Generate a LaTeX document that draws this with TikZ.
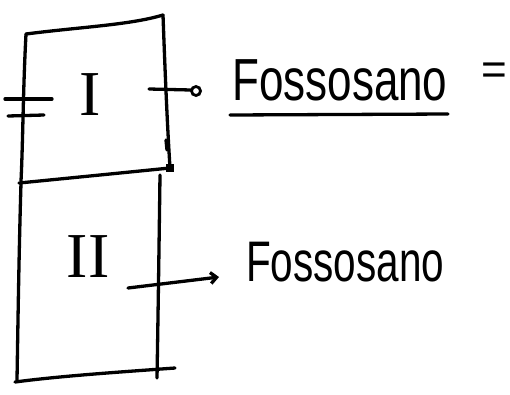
\documentclass[tikz,border=0pt]{standalone}
\usepackage{fontspec}
\setmainfont{Liberation Sans}
\newfontfamily\romanfont{Liberation Serif}
\usetikzlibrary{arrows.meta}
\begin{document}
\begin{tikzpicture}[x=1pt,y=-1pt,
  pen/.style={line width=3.3pt, line cap=round, line join=round, black},
  word/.style={font=\fontsize{44}{44}\selectfont, inner sep=0pt, anchor=base west},
  numeral/.style={font=\romanfont\fontsize{64}{64}\selectfont, inner sep=0pt}]
\useasboundingbox (0,0) rectangle (510,394);

% corners of the two stacked boxes
\coordinate (tl) at (26,34);
\coordinate (tr) at (163,15);
\coordinate (ml) at (19,183);
\coordinate (mr) at (170,168);
\coordinate (bl) at (15,382);
\coordinate (br) at (175,368);

% upper box
\draw[pen] (tl) .. controls (80,27) and (130,25) .. (tr);
\draw[pen] (tl) .. controls (23,90) and (23,140) .. (21,181);
\draw[pen] (tr) .. controls (165,70) and (167,120) .. (mr);
\draw[pen] (ml) .. controls (70,178) and (130,172) .. (mr);
\fill (mr) ++(-4,-4) rectangle ++(8,8);
\draw[pen] (166,140) -- (167,150);

% lower box
\draw[pen] (21,183) .. controls (19,250) and (18,320) .. (17,380);
\draw[pen] (160,175) .. controls (159,250) and (158,320) .. (157,378);
\draw[pen] (bl) .. controls (60,376) and (120,372) .. (br);

% tick marks on the left side
\draw[pen] (5,99) -- (52,99);
\draw[pen] (8,116) -- (44,115);

% numerals
\node[numeral] (n1) at (90,95) {I};
\node[numeral] (n2) at (88,257) {II};

% labels
\node[word] (t1) at (232,100) {\scalebox{1}[1.35]{Fossosano}};
\node[word] (t2) at (246,281) {\scalebox{0.92}[1.3]{Fossosano}};
\node[word, anchor=center] (eq) at (494,74) {=};
\draw[pen] (230,115) -- (448,114);

% arrows from the boxes to the labels
\coordinate (s1) at (149,89);
\coordinate (e1) at (191,90);
\draw[pen] (s1) -- (e1);
\draw[line width=2.8pt] (196,91) circle (4.5);
\coordinate (s2) at (128,288);
\coordinate (e2) at (219,277);
\draw[pen, -{Straight Barb[length=6pt,width=11pt]}] (s2) -- (e2);
\end{tikzpicture}
\end{document}
